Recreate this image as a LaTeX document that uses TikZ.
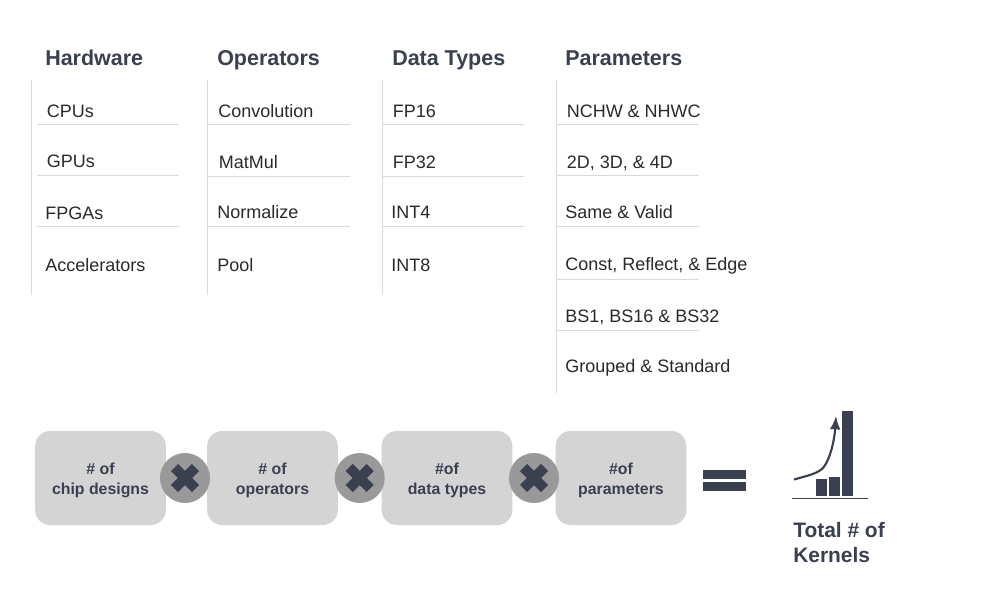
\documentclass[tikz,border=0pt]{standalone}
\usepackage{fontspec}
\setmainfont{Liberation Sans}
\usetikzlibrary{arrows.meta,calc,positioning}
\definecolor{inkdark}{HTML}{3A4050}
\definecolor{inktext}{HTML}{2A2A2A}
\definecolor{rulegray}{HTML}{D9D9D9}
\definecolor{boxgray}{HTML}{D4D4D4}
\definecolor{timesgray}{HTML}{999999}
\begin{document}
\begin{tikzpicture}[x=.75pt,y=-.75pt,
head/.style={anchor=base west,inner sep=0,text=inkdark,font=\fontsize{16.1}{19}\selectfont\bfseries},
item/.style={anchor=base west,inner sep=0,text=inktext,font=\fontsize{13.5}{16}\selectfont},
factor/.style={rounded corners=11.25pt,fill=boxgray,minimum width=98pt,minimum height=70.5pt,inner sep=0,align=center,text=inkdark,font=\fontsize{11.9}{15}\selectfont\bfseries},
times/.style={circle,fill=timesgray,minimum size=37.5pt,inner sep=0},
crossbar/.style={draw=inkdark,line width=7.5pt},
rulev/.style={draw=rulegray,line width=.75pt},
ruleh/.style={draw=rulegray,line width=.9pt}]
\useasboundingbox (0,0) rectangle (1000,610);
\fill[white] (0,0) rectangle (1000,610);
% column headings
\node[head] (hHardware) at (45,65) {Hardware};
\node[head] (hOperators) at (217,65) {Operators};
\node[head] (hTypes) at (392,65) {Data Types};
\node[head] (hParams) at (565,65) {Parameters};
% hardware
\node[item] (CPU) at (46.5,117.5) {CPUs};
\node[item] (GPU) at (46.5,167.5) {GPUs};
\node[item] (FPGA) at (45,219.5) {FPGAs};
\node[item] (Accel) at (45,271) {Accelerators};
% operators
\node[item] (Conv) at (218,117.5) {Convolution};
\node[item] (MatMul) at (218.5,168.5) {MatMul};
\node[item] (Norm) at (217,218.5) {Normalize};
\node[item] (Pool) at (217,271) {Pool};
% data types
\node[item] (FP16) at (392.5,117.5) {FP16};
\node[item] (FP32) at (392.5,168.5) {FP32};
\node[item] (INT4) at (391,218.5) {INT4};
\node[item] (INT8) at (391,271) {INT8};
% parameters
\node[item] (Layout) at (566.5,117.5) {NCHW \& NHWC};
\node[item] (Dims) at (566.5,168.5) {2D, 3D, \& 4D};
\node[item] (Padding) at (565,218.5) {Same \& Valid};
\node[item] (Mode) at (565,270.5) {Const, Reflect, \& Edge};
\node[item] (Batch) at (565,322.5) {BS1, BS16 \& BS32};
\node[item] (Group) at (565,372.5) {Grouped \& Standard};
% rules
\draw[rulev] (31.3,80)--(31.3,295);
\draw[rulev] (207.8,80)--(207.8,295);
\draw[rulev] (382.3,80)--(382.3,295);
\draw[rulev] (556.3,80)--(556.3,393);
\draw[ruleh] (37,124.3)--(179,124.3);
\draw[ruleh] (37,175.3)--(179,175.3);
\draw[ruleh] (37,226.3)--(179,226.3);
\draw[ruleh] (208,124.3)--(350,124.3);
\draw[ruleh] (208,176.3)--(350,176.3);
\draw[ruleh] (208,226.3)--(350,226.3);
\draw[ruleh] (382,124.3)--(524,124.3);
\draw[ruleh] (382,176.3)--(524,176.3);
\draw[ruleh] (382,226.3)--(524,226.3);
\draw[ruleh] (556,124.3)--(699,124.3);
\draw[ruleh] (556,175.3)--(699,175.3);
\draw[ruleh] (556,226.3)--(699,226.3);
\draw[ruleh] (556,279.3)--(699,279.3);
\draw[ruleh] (556,330.3)--(699,330.3);
% formula
\node[factor] (boxChip) at (100.5,478) {\raisebox{0pt}[1em][0pt]{\# of}\\chip designs};
\node[factor] (boxOps) at (272.5,478) {\raisebox{0pt}[1em][0pt]{\# of}\\operators};
\node[factor] (boxTypes) at (447,478) {\raisebox{0pt}[1em][0pt]{\#of}\\data types};
\node[factor] (boxParams) at (621,478) {\raisebox{0pt}[1em][0pt]{\#of}\\parameters};
\node[times] (times1) at (185,478) {};
\node[times] (times2) at (359.7,478) {};
\node[times] (times3) at (534,478) {};
\draw[crossbar] ($(times1)+(-10.5,-10.5)$)--($(times1)+(10.5,10.5)$);
\draw[crossbar] ($(times1)+(-10.5,10.5)$)--($(times1)+(10.5,-10.5)$);
\draw[crossbar] ($(times2)+(-10.5,-10.5)$)--($(times2)+(10.5,10.5)$);
\draw[crossbar] ($(times2)+(-10.5,10.5)$)--($(times2)+(10.5,-10.5)$);
\draw[crossbar] ($(times3)+(-10.5,-10.5)$)--($(times3)+(10.5,10.5)$);
\draw[crossbar] ($(times3)+(-10.5,10.5)$)--($(times3)+(10.5,-10.5)$);
% equals sign
\fill[inkdark] (703,470) rectangle (746,479);
\fill[inkdark] (703,482) rectangle (746,491);
% chart
\fill[inkdark] (816,479) rectangle (827,496);
\fill[inkdark] (829,477) rectangle (840,496);
\fill[inkdark] (842,411) rectangle (853,496);
\draw[draw=inkdark,line width=.75pt] (792,498)--(868,498);
\coordinate (curveStart) at (794,479.5);
\coordinate (curveEnd) at (836,416);
\draw[-{Latex[length=10pt,width=8pt]},draw=inkdark,fill=none,line width=1.6pt] (curveStart) .. controls (806,476) and (817,474) .. (823,468) .. controls (830,460) and (834.5,440) .. (curveEnd);
\node[head,font=\fontsize{15.7}{19}\selectfont\bfseries] (total) at (793,537) {Total \# of};
\node[head,font=\fontsize{15.7}{19}\selectfont\bfseries] (kernels) at (793,562.5) {Kernels};
\end{tikzpicture}
\end{document}
